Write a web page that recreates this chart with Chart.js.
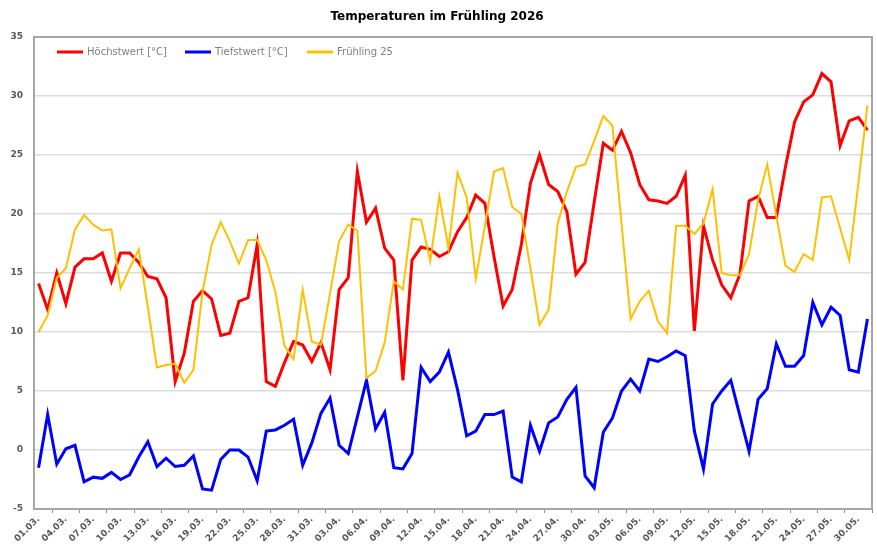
<!DOCTYPE html>
<html><head><meta charset="utf-8">
<script src="https://cdn.jsdelivr.net/npm/chart.js@4/dist/chart.umd.min.js"></script>
<style>html,body{margin:0;padding:0;background:#fff;overflow:hidden}#wrap{position:relative;width:877px;height:546px}</style>
</head><body><div id="wrap"><canvas id="c" width="877" height="546"></canvas></div>
<script>
const titleText = "Temperaturen im Frühling 2026";
const dates = [
 "01.03.","02.03.","03.03.","04.03.","05.03.","06.03.","07.03.","08.03.","09.03.","10.03.",
 "11.03.","12.03.","13.03.","14.03.","15.03.","16.03.","17.03.","18.03.","19.03.","20.03.",
 "21.03.","22.03.","23.03.","24.03.","25.03.","26.03.","27.03.","28.03.","29.03.","30.03.","31.03.",
 "01.04.","02.04.","03.04.","04.04.","05.04.","06.04.","07.04.","08.04.","09.04.","10.04.",
 "11.04.","12.04.","13.04.","14.04.","15.04.","16.04.","17.04.","18.04.","19.04.","20.04.",
 "21.04.","22.04.","23.04.","24.04.","25.04.","26.04.","27.04.","28.04.","29.04.","30.04.",
 "01.05.","02.05.","03.05.","04.05.","05.05.","06.05.","07.05.","08.05.","09.05.","10.05.",
 "11.05.","12.05.","13.05.","14.05.","15.05.","16.05.","17.05.","18.05.","19.05.","20.05.",
 "21.05.","22.05.","23.05.","24.05.","25.05.","26.05.","27.05.","28.05.","29.05.","30.05.","31.05."
];
const hoechstwert = [
 14.1, 11.9, 15.0, 12.4, 15.5, 16.2, 16.2, 16.7, 14.3, 16.7,
 16.7, 15.9, 14.7, 14.5, 12.9, 5.8, 8.2, 12.6, 13.5, 12.8,
 9.7, 9.9, 12.6, 12.9, 17.4, 5.8, 5.4, 7.4, 9.2, 8.9,
 7.5, 9.1, 6.8, 13.6, 14.6, 23.6, 19.3, 20.5, 17.1, 16.1,
 5.9, 16.1, 17.2, 17.0, 16.4, 16.8, 18.5, 19.7, 21.6, 20.9,
 16.4, 12.2, 13.6, 17.4, 22.6, 25.0, 22.5, 21.9, 20.2, 14.9,
 15.9, 21.0, 26.0, 25.4, 27.0, 25.2, 22.5, 21.2, 21.1, 20.9,
 21.5, 23.3, 10.1, 19.0, 16.1, 14.0, 12.9, 14.9, 21.1, 21.5,
 19.7, 19.7, 24.0, 27.8, 29.5, 30.1, 31.9, 31.2, 25.8, 27.9,
 28.2, 27.1
];
const tiefstwert = [
 -1.5, 3.0, -1.2, 0.1, 0.4, -2.7, -2.3, -2.4, -1.9, -2.5,
 -2.1, -0.6, 0.7, -1.4, -0.7, -1.4, -1.3, -0.5, -3.3, -3.4,
 -0.8, 0.0, 0.0, -0.6, -2.6, 1.6, 1.7, 2.1, 2.6, -1.3,
 0.6, 3.1, 4.4, 0.4, -0.3, 2.8, 5.9, 1.8, 3.2, -1.5,
 -1.6, -0.3, 7.0, 5.8, 6.6, 8.3, 5.1, 1.2, 1.6, 3.0,
 3.0, 3.3, -2.3, -2.7, 2.1, -0.1, 2.3, 2.8, 4.3, 5.3,
 -2.2, -3.2, 1.5, 2.7, 5.0, 6.0, 5.0, 7.7, 7.5, 7.9,
 8.4, 8.0, 1.6, -1.6, 3.9, 5.0, 5.9, 2.9, -0.1, 4.3,
 5.2, 9.0, 7.1, 7.1, 8.0, 12.5, 10.6, 12.1, 11.4, 6.8,
 6.6, 11.1
];
const fruehling25 = [
 10.0, 11.4, 14.6, 15.4, 18.7, 19.9, 19.1, 18.6, 18.7, 13.7,
 15.4, 17.0, 12.1, 7.0, 7.2, 7.3, 5.7, 6.8, 13.4, 17.4,
 19.3, 17.7, 15.8, 17.8, 17.8, 16.1, 13.4, 8.8, 7.7, 13.6,
 9.2, 8.9, 13.3, 17.7, 19.1, 18.6, 6.1, 6.7, 9.1, 14.3,
 13.6, 19.6, 19.5, 16.0, 21.5, 17.1, 23.5, 21.4, 14.5, 19.0,
 23.6, 23.9, 20.6, 20.0, 15.4, 10.6, 11.9, 19.2, 21.9, 24.0,
 24.2, 26.2, 28.3, 27.5, 19.2, 11.1, 12.6, 13.5, 10.9, 9.9,
 19.0, 19.0, 18.3, 19.2, 22.1, 15.0, 14.8, 14.8, 16.6, 21.2,
 24.2, 19.8, 15.6, 15.1, 16.6, 16.1, 21.4, 21.5, 18.8, 16.1,
 22.6, 29.2
];
const seriesLabels = ["Höchstwert [°C]", "Tiefstwert [°C]", "Frühling 25"];
const yMin = -5, yMax = 35, yStep = 5;

const decor = {
  id: 'decor',
  afterDraw(chart) {
    const ctx = chart.ctx, a = chart.chartArea;
    ctx.save();
    ctx.strokeStyle = '#a6a6a6';
    ctx.lineWidth = 2;
    ctx.strokeRect(a.left, a.top, a.right - a.left, a.bottom - a.top);
    ctx.fillStyle = '#000';
    ctx.font = 'bold 12px "DejaVu Sans"';
    ctx.textAlign = 'center';
    ctx.textBaseline = 'middle';
    ctx.fillText(titleText, 437, 17);
    const lx = [57, 185, 307];
    const ly = a.top + 15;
    ctx.font = '10px "DejaVu Sans"';
    ctx.textAlign = 'left';
    chart.data.datasets.forEach((ds, i) => {
      ctx.strokeStyle = ds.borderColor;
      ctx.lineWidth = 3;
      ctx.beginPath();
      ctx.moveTo(lx[i], ly);
      ctx.lineTo(lx[i] + 26, ly);
      ctx.stroke();
      ctx.fillStyle = '#7f7f7f';
      ctx.fillText(ds.label, lx[i] + 30, ly);
    });
    ctx.restore();
  }
};

new Chart(document.getElementById('c'), {
  type: 'line',
  data: {
    labels: dates,
    datasets: [
      { label: seriesLabels[0], data: hoechstwert, borderColor: '#ff0000', backgroundColor: '#ff0000', borderWidth: 3, order: 2 },
      { label: seriesLabels[1], data: tiefstwert, borderColor: '#0000ff', backgroundColor: '#0000ff', borderWidth: 3, order: 1 },
      { label: seriesLabels[2], data: fruehling25, borderColor: '#ffc000', backgroundColor: '#ffc000', borderWidth: 2, order: 0 }
    ]
  },
  options: {
    responsive: false,
    animation: false,
    devicePixelRatio: 1,
    layout: { padding: { top: 37, right: 5, left: 0, bottom: 0 } },
    elements: { point: { radius: 0 }, line: { tension: 0 } },
    plugins: { legend: { display: false }, title: { display: false }, tooltip: { enabled: false } },
    scales: {
      x: {
        type: 'category',
        offset: true,
        grid: { display: true, drawOnChartArea: false, drawTicks: true, tickLength: 4, offset: true, color: '#8c8c8c', lineWidth: 1 },
        border: { display: true, color: '#8c8c8c', width: 2 },
        ticks: {
          autoSkip: false, maxRotation: 45, minRotation: 45, padding: 1,
          color: '#595959', font: { family: 'DejaVu Sans', size: 9, weight: 'bold' },
          callback: function (v, i) { return i % 3 === 0 ? this.getLabelForValue(v) : null; }
        },
        afterFit(s) { s.height = 37; }
      },
      y: {
        min: yMin, max: yMax,
        ticks: { stepSize: yStep, padding: 11, color: '#595959', font: { family: 'DejaVu Sans', size: 9, weight: 'bold' } },
        grid: { color: '#dcdcdc', lineWidth: 1.5, drawTicks: false },
        border: { display: true, color: '#8c8c8c', width: 2 },
        afterFit(s) { s.width = 34; }
      }
    }
  },
  plugins: [decor]
});
</script>
</body></html>
